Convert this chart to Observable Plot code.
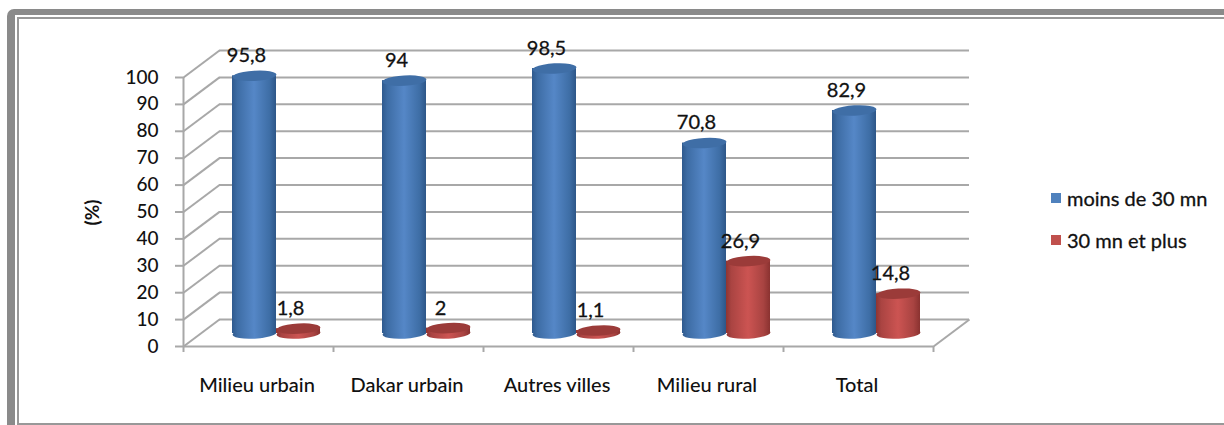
<!DOCTYPE html>
<html><head><meta charset="utf-8">
<script src="https://cdn.jsdelivr.net/npm/d3@7"></script>
<script src="https://cdn.jsdelivr.net/npm/@observablehq/plot@0.6"></script>
<style>
html,body{margin:0;padding:0;background:#fff;width:1224px;height:425px;overflow:hidden;font-family:Lato,sans-serif;}
#wrap{position:relative;width:1224px;height:425px;overflow:hidden;}
#wrap svg{position:absolute;left:0;top:0;}
.f1{position:absolute;left:7px;top:9px;width:1300px;height:600px;border:solid #8a8a8a;border-width:6px 0 0 8px;border-top-left-radius:7px;box-sizing:border-box;}
.f2{position:absolute;left:17px;top:17px;width:1300px;height:408px;box-sizing:border-box;border:solid #989898;border-width:2px 0 2px 2px;}
.leg{position:absolute;left:1051px;font:400 20px Lato,sans-serif;color:#111;display:flex;align-items:center;gap:6px;-webkit-text-stroke:.3px #111;}
.leg i{display:block;width:10px;height:10px;}
</style></head><body>
<div id="wrap"><div class="f1"></div><div class="f2"></div></div>
<script>
const categories = ["Milieu urbain","Dakar urbain","Autres villes","Milieu rural","Total"];
const moins30 = [95.8,94,98.5,70.8,82.9];
const plus30 = [1.8,2,1.1,26.9,14.8];
const moins30Labels = ["95,8","94","98,5","70,8","82,9"];
const plus30Labels = ["1,8","2","1,1","26,9","14,8"];
const yTicks = [0,10,20,30,40,50,60,70,80,90,100];
const xEdges = [0,1,2,3,4,5];
const seriesNames = ["moins de 30 mn","30 mn et plus"];
const seriesColors = ["#4f81bd","#c0504d"];

const blueRows = categories.map((c,i)=>({i,v:moins30[i],l:moins30Labels[i]}));
const redRows = categories.map((c,i)=>({i,v:plus30[i],l:plus30Labels[i]}));

// Depth of the 3D box, in category units / percent units
const depthX = 36/150, depthY = 27/2.69;
const grid = {stroke:"#a8a8a8",strokeWidth:2};
const ellipse = {draw(ctx,size){
  const r=Math.sqrt(size/Math.PI), n=24, ry=r*0.235, t=-0.055;
  for(let k=0;k<=n;k++){
    const a=2*Math.PI*k/n, ex=r*Math.cos(a), ey=ry*Math.sin(a);
    const px=ex*Math.cos(t)-ey*Math.sin(t), py=ex*Math.sin(t)+ey*Math.cos(t);
    k?ctx.lineTo(px,py):ctx.moveTo(px,py);
  }
  ctx.closePath();
}};
function gradient(id,stops){
  const s=d3.create("svg:defs");
  const g=s.append("linearGradient").attr("id",id);
  stops.forEach(([o,c])=>g.append("stop").attr("offset",o).attr("stop-color",c));
  return ()=>s.node();
}
const blueStops=[[0,"#2f5a8e"],[.12,"#3d6ca4"],[.5,"#5587c7"],[.85,"#3e6ea6"],[1,"#2d5688"]];
const redStops=[[0,"#8e3432"],[.12,"#aa4442"],[.5,"#cc5452"],[.85,"#a84341"],[1,"#8a3230"]];

function cylinder(rows,left,grad,topColor){
  const w=44/150, lift=-13;
  const c=d=>d.i+left+w/2;
  const text={x:c,y:"v",text:"l",dx:-8,dy:lift-20,fontSize:20,fontFamily:"Lato",fill:"#111",stroke:"#111",strokeWidth:.3,textAnchor:"middle"};
  return [
    Plot.dot(rows,{x:c,y:()=>0,r:22,symbol:ellipse,fill:`url(#${grad})`,dy:lift}),
    Plot.rect(rows,{x1:d=>d.i+left,x2:d=>d.i+left+w,y1:()=>0,y2:"v",fill:`url(#${grad})`,dy:lift}),
    Plot.dot(rows,{x:c,y:"v",r:22,symbol:ellipse,fill:topColor,dy:lift}),
    Plot.text(rows,text)
  ];
}

const plot = Plot.plot({
  width:1224,height:425,
  marginLeft:183,marginRight:291,marginTop:77,marginBottom:79,
  style:{background:"transparent",overflow:"visible"},
  x:{type:"linear",domain:[0,5]},
  y:{type:"linear",domain:[0,100]},
  marks:[
    gradient("blueG",blueStops),
    gradient("redG",redStops),
    // back wall
    Plot.ruleY(yTicks,{x1:depthX,x2:5+depthX,y:d=>d+depthY,...grid}),
    // side wall
    Plot.link(yTicks,{x1:0,y1:d=>d,x2:depthX,y2:d=>d+depthY,...grid}),
    // floor
    Plot.link([0],{x1:5,y1:0,x2:5+depthX,y2:depthY,...grid}),
    Plot.ruleY([0],{x1:0,x2:5,...grid}),
    Plot.ruleX([0],{y1:0,y2:100,...grid}),
    Plot.axisY({ticks:yTicks,tickSize:8,tickPadding:17,fontSize:19,fontFamily:"Lato",fontWeight:500,stroke:"#a8a8a8",strokeWidth:2,color:"#111",label:null,tickFormat:d=>d}),
    Plot.axisX({ticks:xEdges,tickSize:6,tickPadding:0,stroke:"#a8a8a8",strokeWidth:2,label:null,tickFormat:()=>""}),
    Plot.axisX({ticks:xEdges.slice(0,5).map(d=>d+.49),tickSize:0,tickPadding:31,fontSize:20,fontFamily:"Lato",fontWeight:500,label:null,color:"#111",tickFormat:d=>categories[Math.floor(d)]}),
    Plot.text(["(%)"],{x:-0.607,y:49.8,text:d=>d,rotate:-90,fontSize:19,fontWeight:700,fontFamily:"Lato",fill:"#111"}),
    ...cylinder(blueRows,49/150,"blueG","#3f6ea6"),
    ...cylinder(redRows,93/150,"redG","#9b3b39")
  ]
});
const wrap=document.getElementById("wrap");
wrap.appendChild(plot);
[[186],[228]].forEach(([top],k)=>{
  const d=document.createElement("div");d.className="leg";d.style.top=top+"px";
  const i=document.createElement("i");i.style.background=seriesColors[k];
  const s=document.createElement("span");s.textContent=seriesNames[k];
  d.append(i,s);wrap.appendChild(d);
});
</script></body></html>
